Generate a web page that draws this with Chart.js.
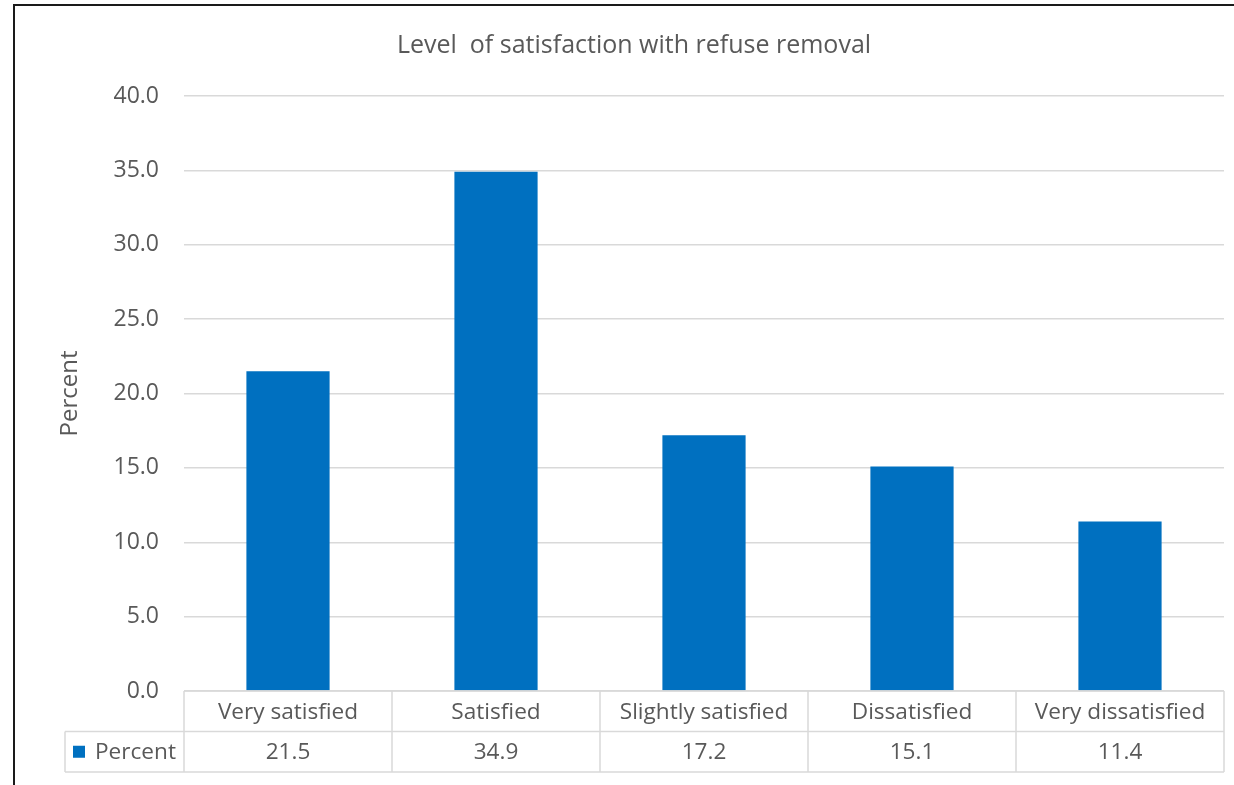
<!DOCTYPE html>
<html>
<head>
<meta charset="utf-8">
<script src="https://cdn.jsdelivr.net/npm/chart.js@4.4.0/dist/chart.umd.min.js"></script>
<style>
  html, body { margin: 0; padding: 0; background: #fff; }
  canvas { display: block; }
</style>
</head>
<body>
<canvas id="chart" width="1234" height="785"></canvas>
<script>
// --- Data ---
const categories = ['Very satisfied', 'Satisfied', 'Slightly satisfied', 'Dissatisfied', 'Very dissatisfied'];
const percentValues = [21.5, 34.9, 17.2, 15.1, 11.4];
const seriesName = 'Percent';
const chartTitle = 'Level  of satisfaction with refuse removal';

const FONT = '"Open Sans", sans-serif';
const TEXT = '#595959';
const LINE = '#d9d9d9';
const BAR = '#0070C0';

// Frame + data table under the x axis (Excel style)
const tablePlugin = {
    id: 'dataTable',
    beforeDraw(chart) {
        const ctx = chart.ctx;
        ctx.save();
        ctx.strokeStyle = '#1a1a1a';
        ctx.lineWidth = 2;
        ctx.beginPath();
        ctx.moveTo(14, chart.height);
        ctx.lineTo(14, 5);
        ctx.lineTo(chart.width, 5);
        ctx.stroke();
        ctx.restore();
    },
    afterDraw(chart) {
        const ctx = chart.ctx;
        const x = chart.scales.x;
        const area = chart.chartArea;
        const colW = x.getPixelForValue(1) - x.getPixelForValue(0);
        const left = x.getPixelForValue(0) - colW / 2;
        const right = x.getPixelForValue(categories.length - 1) + colW / 2;
        const top = area.bottom;
        const rowH = 40.5;
        const mid = top + rowH;
        const bottom = top + rowH * 2;
        const legendLeft = 65;

        ctx.save();
        ctx.strokeStyle = LINE;
        ctx.lineWidth = 1.5;
        ctx.beginPath();
        // horizontal lines
        ctx.moveTo(left, top); ctx.lineTo(right, top);
        ctx.moveTo(legendLeft, mid); ctx.lineTo(right, mid);
        ctx.moveTo(legendLeft, bottom); ctx.lineTo(right, bottom);
        // vertical lines
        ctx.moveTo(legendLeft, mid); ctx.lineTo(legendLeft, bottom);
        for (let i = 0; i <= categories.length; i++) {
            const px = left + colW * i;
            ctx.moveTo(px, top); ctx.lineTo(px, bottom);
        }
        ctx.stroke();

        ctx.fillStyle = TEXT;
        ctx.font = '22.6px ' + FONT;
        ctx.textAlign = 'center';
        ctx.textBaseline = 'middle';
        categories.forEach((c, i) => {
            const cx = x.getPixelForValue(i);
            ctx.fillText(c, cx, top + rowH / 2 + 1);
            ctx.fillText(percentValues[i].toFixed(1), cx, mid + rowH / 2 + 1);
        });

        // legend key
        ctx.fillStyle = BAR;
        ctx.fillRect(73, mid + rowH / 2 - 6, 12, 12);
        ctx.fillStyle = TEXT;
        ctx.textAlign = 'left';
        ctx.fillText(seriesName, 95, mid + rowH / 2 + 1);
        ctx.restore();
    }
};

new Chart(document.getElementById('chart'), {
    type: 'bar',
    data: {
        labels: categories,
        datasets: [{
            label: seriesName,
            data: percentValues,
            backgroundColor: BAR,
            borderWidth: 0,
            barPercentage: 0.4,
            categoryPercentage: 1.0
        }]
    },
    options: {
        responsive: false,
        animation: false,
        layout: { padding: { left: 44, right: 10, top: 0, bottom: 94 } },
        plugins: {
            legend: { display: false },
            tooltip: { enabled: false },
            title: {
                display: true,
                text: chartTitle,
                color: TEXT,
                font: { family: FONT, size: 25, weight: 'normal' },
                padding: { top: 31, bottom: 35 }
            }
        },
        scales: {
            x: { display: false },
            y: {
                min: 0,
                max: 40,
                afterFit: (scale) => { scale.width = 140; },
                border: { display: false },
                grid: { color: LINE, lineWidth: 1.5, drawTicks: false },
                ticks: {
                    stepSize: 5,
                    padding: 25,
                    color: TEXT,
                    font: { family: FONT, size: 23 },
                    callback: v => v.toFixed(1)
                },
                title: {
                    display: true,
                    text: seriesName,
                    color: TEXT,
                    font: { family: FONT, size: 24 },
                    padding: { top: 12, bottom: 0 }
                }
            }
        }
    },
    plugins: [tablePlugin]
});
</script>
</body>
</html>
